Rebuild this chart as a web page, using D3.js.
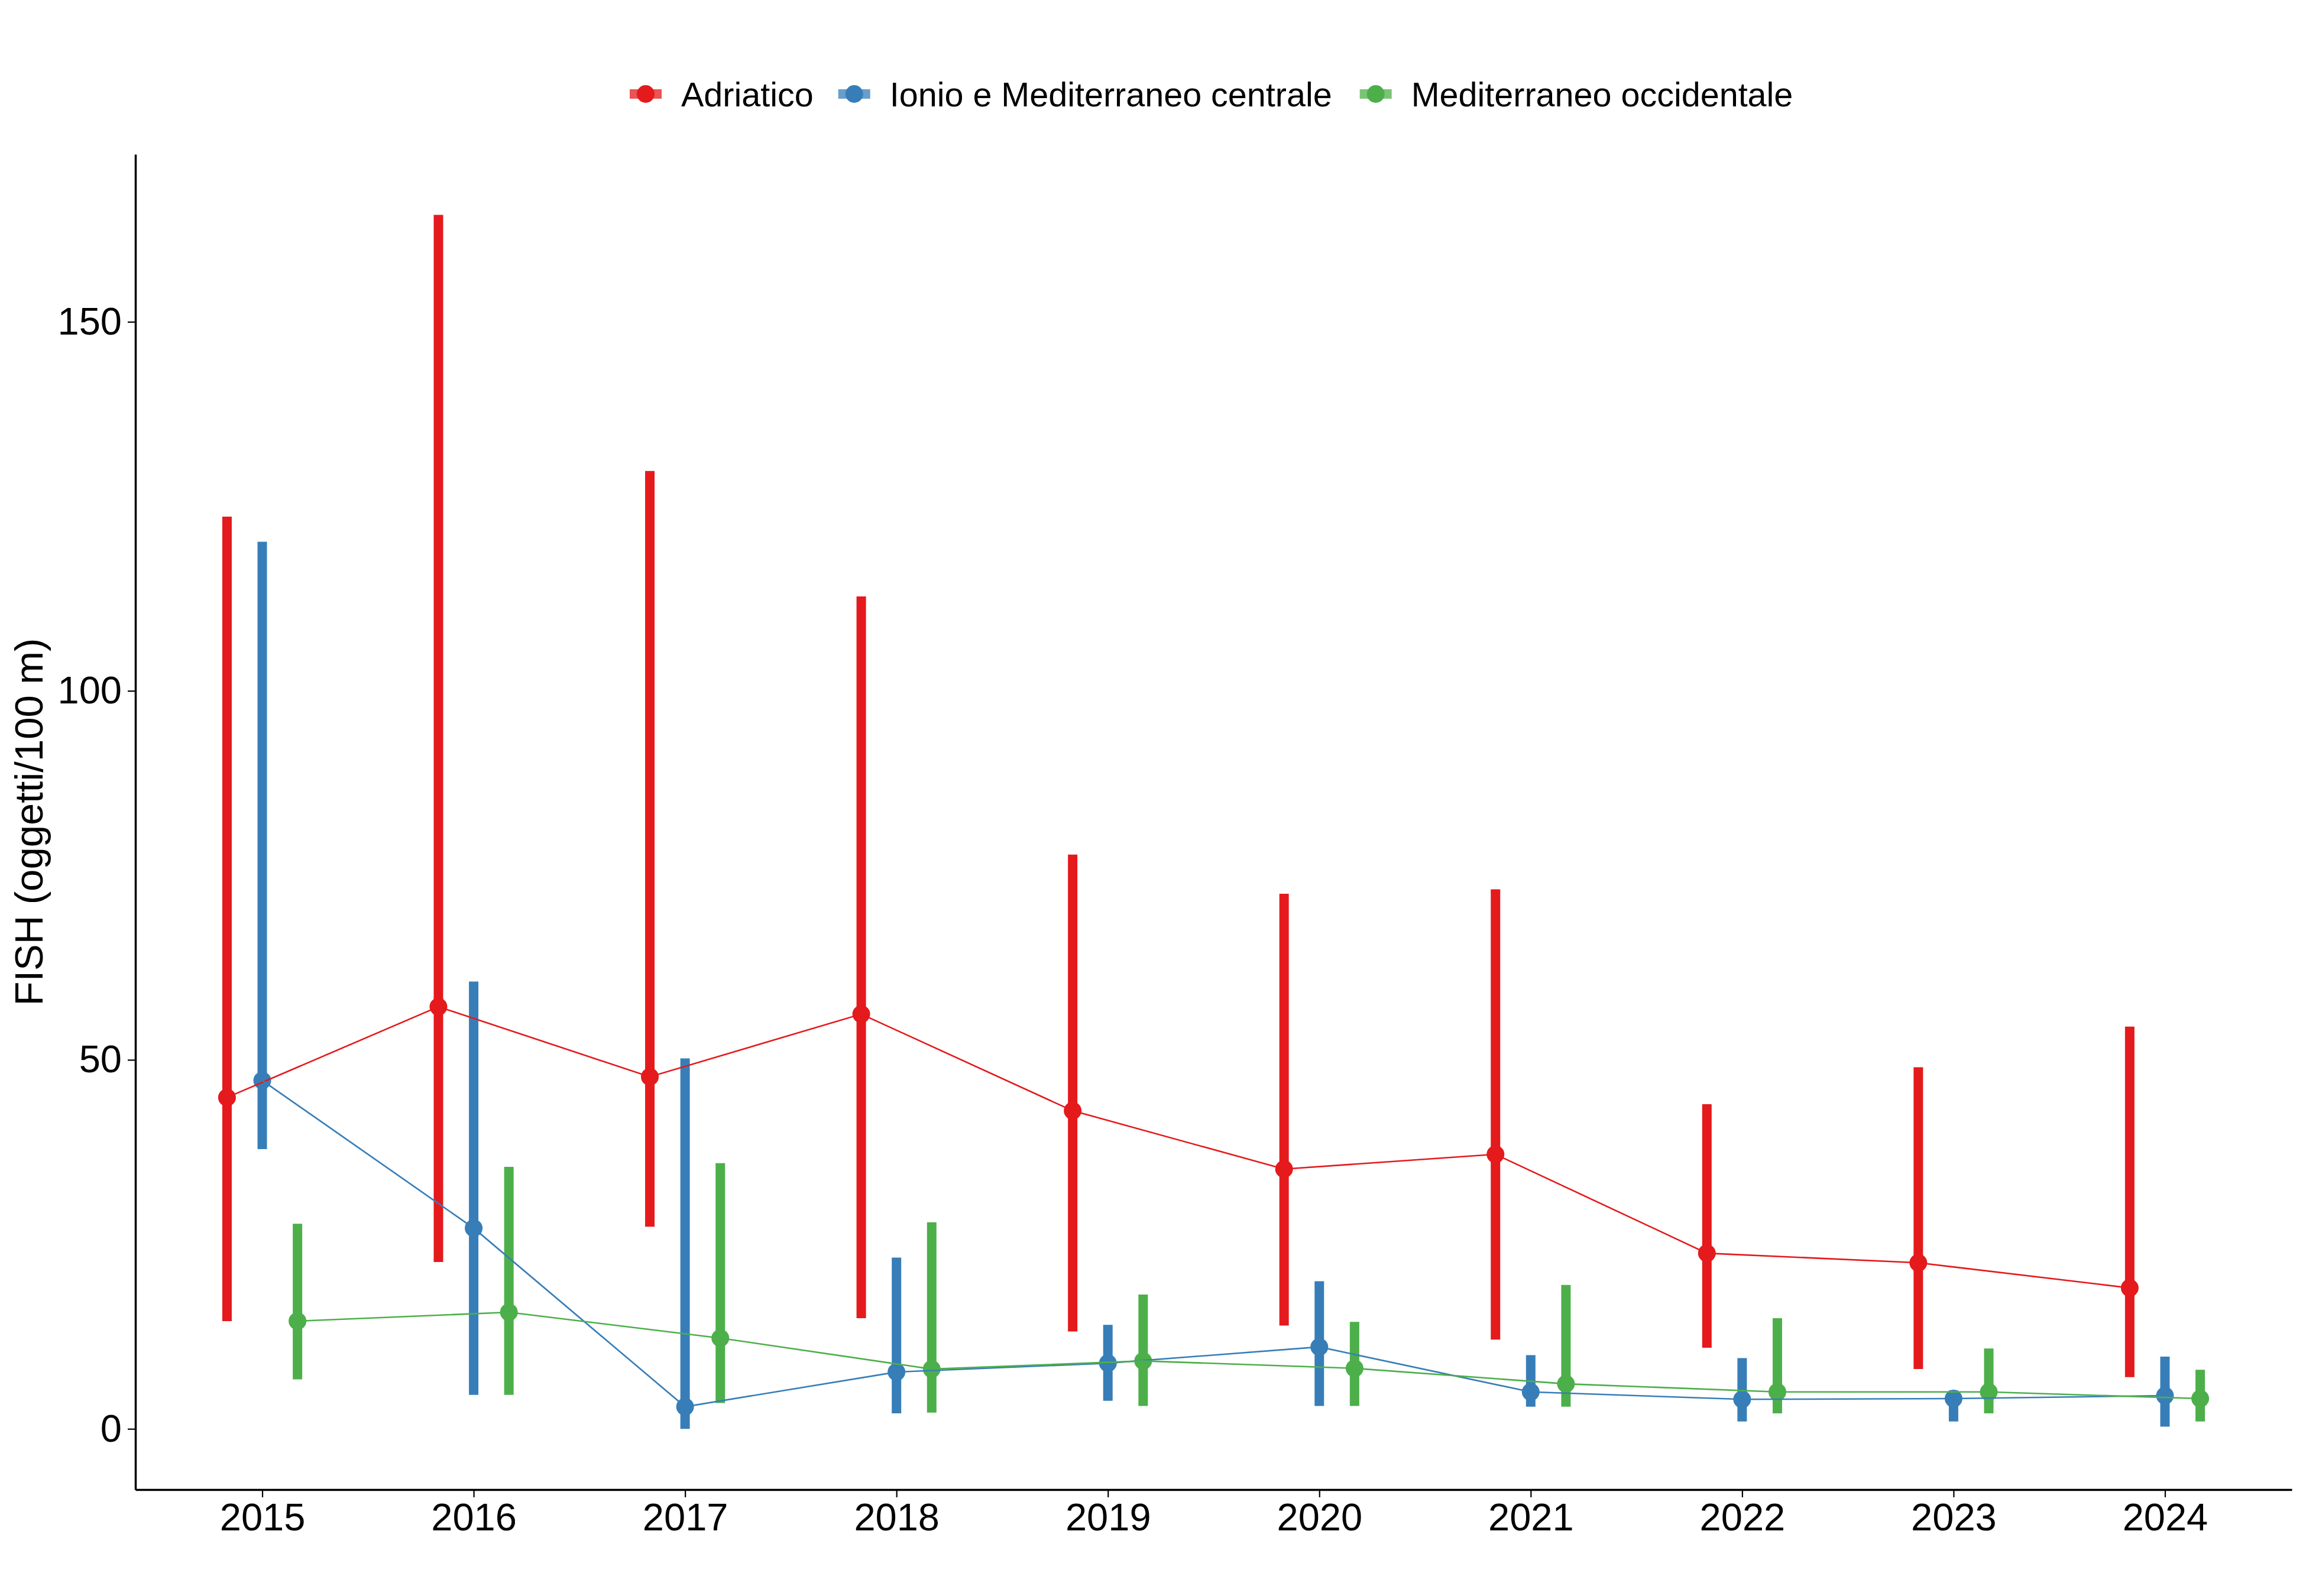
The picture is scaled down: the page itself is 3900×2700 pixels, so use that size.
<!DOCTYPE html>
<html>
<head>
<meta charset="utf-8">
<script src="https://cdn.jsdelivr.net/npm/d3@7"></script>
<style>
  body { margin: 0; background: #fff; }
  svg { display: block; }
  text { font-family: "Liberation Sans", Arial, sans-serif; fill: #000; }
</style>
</head>
<body>
<div id="chart"></div>
<script>
const years = [2015, 2016, 2017, 2018, 2019, 2020, 2021, 2022, 2023, 2024];
const regions = ["Adriatico", "Ionio e Mediterraneo centrale", "Mediterraneo occidentale"];
const colors = ["#E41A1C", "#377EB8", "#4DAF4A"];
const yTicks = [0, 50, 100, 150];

// mean and interval per region, one value per year
const adriaticoMean = [44.9, 57.2, 47.7, 56.2, 43.1, 35.2, 37.2, 23.8, 22.5, 19.1];
const adriaticoLow = [14.6, 22.6, 27.4, 15.0, 13.2, 14.0, 12.1, 11.0, 8.1, 7.0];
const adriaticoHigh = [123.6, 164.5, 129.8, 112.8, 77.8, 72.5, 73.1, 44.0, 49.0, 54.5];

const ionioMean = [47.2, 27.2, 3.0, 7.7, 8.9, 11.1, 5.0, 4.0, 4.1, 4.5];
const ionioLow = [37.9, 4.6, 0.0, 2.1, 3.8, 3.1, 3.0, 1.0, 1.0, 0.3];
const ionioHigh = [120.2, 60.6, 50.2, 23.2, 14.1, 20.0, 10.0, 9.6, 5.2, 9.8];

const occidentaleMean = [14.6, 15.8, 12.3, 8.1, 9.2, 8.2, 6.1, 5.0, 5.0, 4.1];
const occidentaleLow = [6.7, 4.6, 3.5, 2.2, 3.1, 3.1, 3.0, 2.1, 2.1, 1.0];
const occidentaleHigh = [27.8, 35.5, 36.0, 28.0, 18.2, 14.5, 19.5, 15.0, 10.9, 8.0];

const means = [adriaticoMean, ionioMean, occidentaleMean];
const lows = [adriaticoLow, ionioLow, occidentaleLow];
const highs = [adriaticoHigh, ionioHigh, occidentaleHigh];

const series = regions.map((r, i) => ({
  name: r,
  index: i,
  values: years.map((y, j) => ({ year: y, mean: means[i][j], low: lows[i][j], high: highs[i][j] }))
}));

const width = 3900;
const height = 2700;
const margin = { top: 261, right: 24, bottom: 180, left: 229 };

const x = d3.scalePoint().domain(years).range([margin.left, width - margin.right]).padding(0.6);
const dodge = x.step() / 6;
const xPos = (d, i) => x(d.year) + (i - 1) * dodge;

const yMin = -8.23, yMax = 172.7;
const y = d3.scaleLinear().domain([yMin, yMax]).range([height - margin.bottom, margin.top]);
const color = d3.scaleOrdinal().domain(regions).range(colors);

const svg = d3.select("#chart").append("svg")
  .attr("width", width)
  .attr("height", height);

// axes
const xAxis = svg.append("g")
  .attr("transform", `translate(0, ${height - margin.bottom})`)
  .call(d3.axisBottom(x).tickSize(13).tickSizeOuter(0).tickPadding(10));
xAxis.select(".domain").attr("stroke-width", 3.5);
xAxis.selectAll(".tick line").attr("stroke-width", 2.2);
xAxis.selectAll(".tick text").attr("font-size", 65).attr("fill", "#000")
  .attr("font-family", '"Liberation Sans", Arial, sans-serif');

const yAxis = svg.append("g")
  .attr("transform", `translate(${margin.left}, 0)`)
  .call(d3.axisLeft(y).tickValues(yTicks).tickSize(13).tickSizeOuter(0).tickPadding(10));
yAxis.select(".domain").attr("stroke-width", 3.5);
yAxis.selectAll(".tick line").attr("stroke-width", 2.2);
yAxis.selectAll(".tick text").attr("font-size", 65).attr("fill", "#000")
  .attr("font-family", '"Liberation Sans", Arial, sans-serif');

svg.append("text")
  .attr("text-anchor", "middle")
  .attr("transform", `translate(72, ${(margin.top + height - margin.bottom) / 2}) rotate(-90)`)
  .attr("font-size", 67)
  .text("FISH (oggetti/100 m)");

// pointranges
const groups = svg.append("g").selectAll("g.series")
  .data(series)
  .join("g")
  .attr("class", "series");

groups.each(function (s) {
  const g = d3.select(this);
  g.selectAll("line.range")
    .data(s.values)
    .join("line")
    .attr("class", "range")
    .attr("x1", d => xPos(d, s.index))
    .attr("x2", d => xPos(d, s.index))
    .attr("y1", d => y(d.low))
    .attr("y2", d => y(d.high))
    .attr("stroke", color(s.name))
    .attr("stroke-width", 16);

  g.selectAll("circle")
    .data(s.values)
    .join("circle")
    .attr("cx", d => xPos(d, s.index))
    .attr("cy", d => y(d.mean))
    .attr("r", 15)
    .attr("fill", color(s.name));
});

// connecting lines
const line = d3.line()
  .x(d => d.px)
  .y(d => y(d.mean));

svg.append("g").selectAll("path")
  .data(series)
  .join("path")
  .attr("fill", "none")
  .attr("stroke", d => color(d.name))
  .attr("stroke-width", 2.6)
  .attr("d", s => line(s.values.map(v => ({ ...v, px: xPos(v, s.index) }))));

// legend
const legend = svg.append("g").attr("transform", "translate(0, 159)");
const items = legend.selectAll("g")
  .data(regions)
  .join("g");

items.append("line")
  .attr("x1", -27).attr("x2", 27)
  .attr("stroke", d => color(d))
  .attr("stroke-opacity", 0.75)
  .attr("stroke-width", 16);

items.append("circle")
  .attr("r", 15)
  .attr("fill", d => color(d));

items.append("text")
  .attr("x", 60)
  .attr("dy", "0.36em")
  .attr("font-size", 57.5)
  .text(d => d);

const gaps = [42, 47];
let offset = 1065;
const pos = [];
items.each(function (d, i) {
  const w = d3.select(this).select("text").node().getComputedTextLength();
  pos.push(offset + 27);
  offset += 27 + 60 + w + (gaps[i] || 0);
});
items.attr("transform", (d, i) => `translate(${pos[i]}, 0)`);
</script>
</body>
</html>
